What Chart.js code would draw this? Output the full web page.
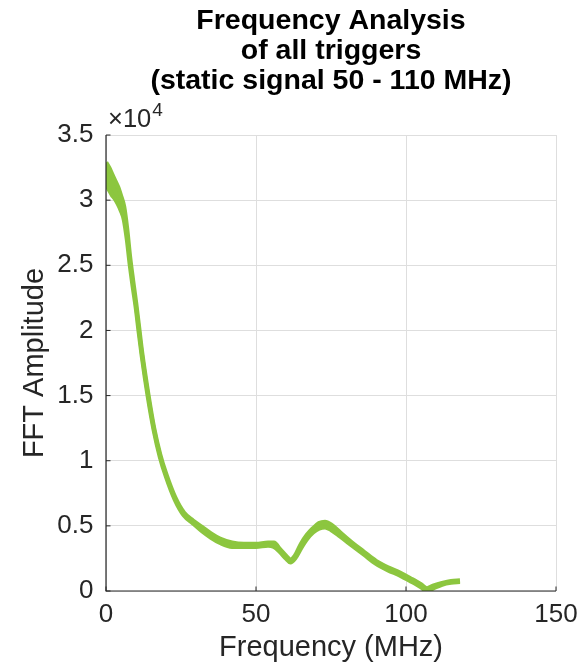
<!DOCTYPE html>
<html>
<head>
<meta charset="utf-8">
<script src="https://cdn.jsdelivr.net/npm/chart.js@4.4.1/dist/chart.umd.min.js"></script>
<style>
html,body{margin:0;padding:0;background:#fff;}
#wrap{width:582px;height:663px;position:relative;}
</style>
</head>
<body>
<div id="wrap"><canvas id="c" width="582" height="663"></canvas></div>
<script>
// Frequency (MHz)
const freqMHz = [0,1,2,3,4,5,6,7,8,9,10,11,12,14,16,18,20,23,26,29,32,35,38,42,46,50,54,56,58,60,61.5,63,65,67,69,71,73,75,78,82,86,90,94,98,102,105,107,109,112,115,118];
// Lower and upper edge of the overlaid trigger traces (FFT amplitude)
const ampLower = [31200,30800,30400,30100,29700,29200,28500,27000,25000,23300,21700,19800,18000,14900,12300,10300,8800,7000,5800,5200,4600,4100,3700,3400,3400,3400,3500,3400,3000,2500,2200,2500,3300,4000,4500,4800,4900,4700,4200,3500,2800,2100,1600,1200,700,300,0,200,500,650,700];
const ampUpper = [32900,32500,32000,31500,31000,30300,29500,27800,25600,23800,22100,20200,18300,15200,12500,10500,9000,7200,6000,5400,4900,4400,4000,3700,3600,3600,3700,3700,3200,2700,2400,2700,3600,4300,4800,5200,5300,5100,4500,3700,3000,2300,1800,1400,900,500,200,400,600,750,800];
// Tick labels
const xTicks = [0,50,100,150];
const yTicks = [0,5000,10000,15000,20000,25000,30000,35000];
const titleLines = ['Frequency Analysis','of all triggers','(static signal 50 - 110 MHz)'];

const green = '#8cc63f';
const textCol = '#262626';
const FONT = "'Liberation Sans', Arial, Helvetica, sans-serif";

const lowerPts = freqMHz.map((f,i)=>({x:f,y:ampLower[i]}));
const upperPts = freqMHz.map((f,i)=>({x:f,y:ampUpper[i]}));

const extras = {
  id:'extras',
  afterDraw(chart){
    const ctx = chart.ctx;
    const xs = chart.scales.x, ys = chart.scales.y;
    const ca = chart.chartArea;
    ctx.save();
    // axis lines
    ctx.strokeStyle = textCol;
    ctx.lineWidth = 1.2;
    ctx.beginPath();
    ctx.moveTo(ca.left, ys.getPixelForValue(35000));
    ctx.lineTo(ca.left, ys.getPixelForValue(0));
    ctx.lineTo(xs.getPixelForValue(150), ys.getPixelForValue(0));
    ctx.stroke();
    // inward ticks
    ctx.lineWidth = 1;
    xTicks.forEach(v=>{
      const px = xs.getPixelForValue(v);
      ctx.beginPath(); ctx.moveTo(px, ca.bottom); ctx.lineTo(px, ca.bottom-4.5); ctx.stroke();
    });
    yTicks.forEach(v=>{
      const py = ys.getPixelForValue(v);
      ctx.beginPath(); ctx.moveTo(ca.left, py); ctx.lineTo(ca.left+4.5, py); ctx.stroke();
    });
    // exponent label
    ctx.fillStyle = textCol;
    ctx.textBaseline = 'alphabetic';
    ctx.textAlign = 'left';
    ctx.font = "25.5px " + FONT;
    ctx.fillText('\u00d710', ca.left + 2, 127);
    const w = ctx.measureText('\u00d710').width;
    ctx.font = "19px " + FONT;
    ctx.fillText('4', ca.left + 3 + w, 116);
    ctx.restore();
  }
};

new Chart(document.getElementById('c'), {
  type:'line',
  data:{
    datasets:[
      {data:lowerPts, borderColor:green, backgroundColor:green, borderWidth:4.5, pointRadius:0, fill:false, cubicInterpolationMode:'monotone'},
      {data:upperPts, borderColor:green, backgroundColor:green, borderWidth:4.5, pointRadius:0, fill:'-1', cubicInterpolationMode:'monotone'}
    ]
  },
  options:{
    responsive:false,
    animation:false,
    layout:{padding:{left:0,right:26,top:0,bottom:0}},
    plugins:{
      legend:{display:false},
      tooltip:{enabled:false},
      title:{
        display:true,
        fullSize:false,
        text:titleLines,
        color:'#000',
        font:{family:FONT, size:28.5, weight:'bold', lineHeight:1.053},
        padding:{top:6,bottom:39}
      }
    },
    scales:{
      x:{
        type:'linear', min:0, max:150,
        afterBuildTicks(s){ s.ticks = xTicks.map(v=>({value:v})); },
        afterFit(s){ s.height = 72; s.paddingLeft = 0; s.paddingRight = 0; },
        grid:{color:'#dedede', drawTicks:false, lineWidth:1},
        border:{display:false},
        ticks:{color:textCol, font:{family:FONT,size:26}, padding:8, maxRotation:0},
        title:{display:true, text:'Frequency (MHz)', color:textCol, font:{family:FONT,size:29}, padding:{top:0,bottom:-2}}
      },
      y:{
        type:'linear', min:0, max:35000,
        afterBuildTicks(s){ s.ticks = yTicks.map(v=>({value:v})); },
        afterFit(s){ s.width = 106; s.paddingTop = 0; s.paddingBottom = 0; },
        grid:{color:'#dedede', drawTicks:false, lineWidth:1},
        border:{display:false},
        ticks:{color:textCol, font:{family:FONT,size:26}, padding:12.5, callback:(v)=>String(v/10000)},
        title:{display:true, text:'FFT Amplitude', color:textCol, font:{family:FONT,size:29}, padding:{top:17.5,bottom:0}}
      }
    }
  },
  plugins:[extras]
});
</script>
</body>
</html>
